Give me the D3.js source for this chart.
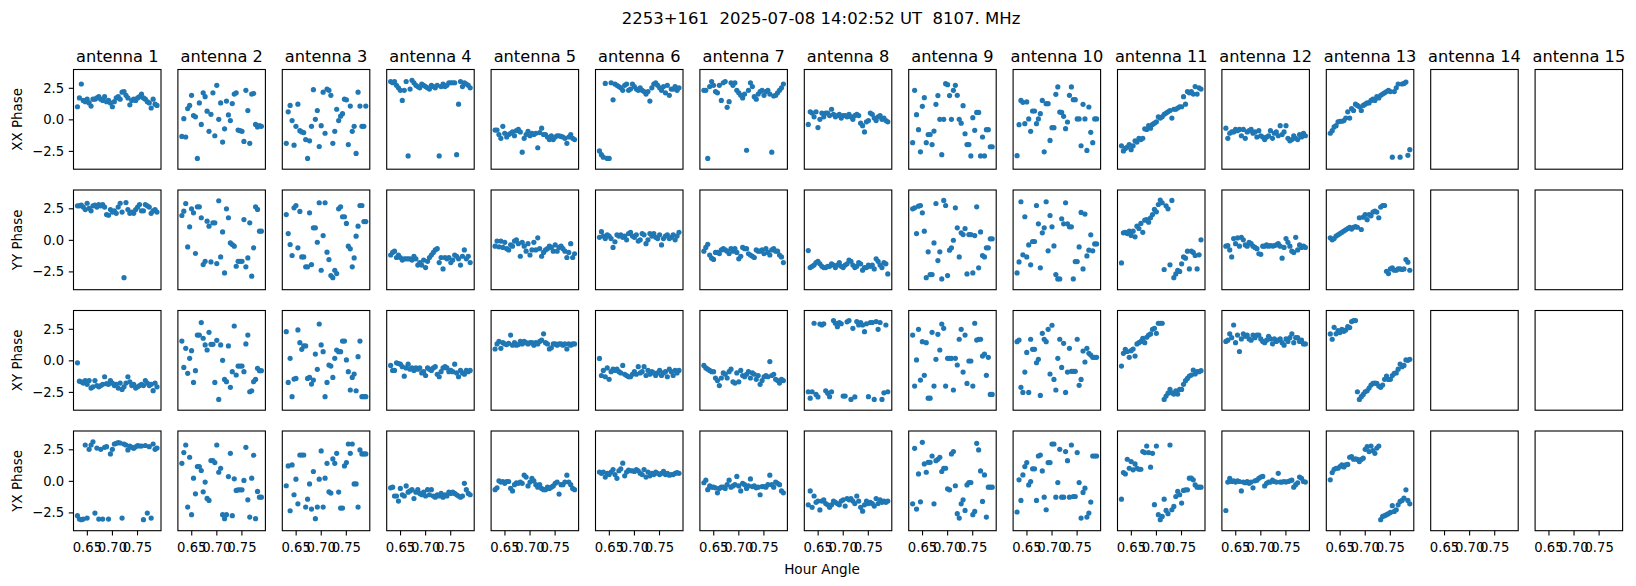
<!DOCTYPE html>
<html><head><meta charset="utf-8">
<script src="https://cdn.jsdelivr.net/npm/d3@7"></script>
<style>
body{margin:0;background:#fff}
svg{display:block}
text{font-family:"DejaVu Sans",sans-serif;fill:#000}
</style>
</head><body><div id="chart"></div>
<script>
const chartTitle = "2253+161  2025-07-08 14:02:52 UT  8107. MHz";
const antennas = ["antenna 1","antenna 2","antenna 3","antenna 4","antenna 5","antenna 6","antenna 7","antenna 8","antenna 9","antenna 10","antenna 11","antenna 12","antenna 13","antenna 14","antenna 15"];
const polarizations = ["XX Phase","YY Phase","XY Phase","YX Phase"];
const xLabel = "Hour Angle";
const xTicks = [0.65, 0.70, 0.75];
const yTicks = [-2.5, 0.0, 2.5];
const hourAngle = [0.6313,0.6352,0.6390,0.6429,0.6468,0.6506,0.6545,0.6584,0.6622,0.6661,0.6700,0.6738,0.6777,0.6816,0.6854,0.6893,0.6932,0.6970,0.7009,0.7048,0.7086,0.7125,0.7164,0.7202,0.7241,0.7280,0.7318,0.7357,0.7396,0.7434,0.7473,0.7512,0.7550,0.7589,0.7628,0.7666,0.7705,0.7744,0.7782,0.7821,0.7860,0.7898];

const phaseXX = [
[1.0,1.7,2.8,1.5,1.4,1.6,1.3,1.05,1.6,1.6,1.7,1.8,1.6,1.5,1.8,1.4,1.5,1.3,1.0,1.4,1.7,1.8,1.6,2.15,2.2,1.9,1.7,1.15,1.5,1.6,1.5,1.7,1.8,2.0,1.7,1.6,1.4,1.3,0.9,1.6,1.2,1.1],
[-1.35,0.05,-1.4,0.85,1.1,1.9,0.3,0.2,-3.1,1.3,-0.4,2.1,1.8,0.65,-0.95,0.4,2.1,-1.3,2.7,0.0,1.3,-1.8,-0.75,1.45,0.35,-0.1,1.25,2.0,2.1,-0.85,-0.9,-0.95,-1.75,2.3,0.7,-1.9,2.0,2.05,-0.4,-0.6,-0.5,-0.55],
[-1.9,0.6,1.1,-0.1,-2.05,-0.55,1.2,-0.9,-1.0,-1.05,-1.6,-3.1,-1.7,-0.55,2.35,0.0,0.7,-2.15,-0.5,2.15,-1.1,2.4,2.3,1.9,-1.9,-0.95,0.8,-0.1,0.25,0.45,1.6,1.55,-2.0,1.05,-0.95,-0.55,-2.7,2.15,1.05,-0.55,-0.55,1.05],
[3.0,2.9,3.0,2.7,2.5,2.3,1.5,2.3,3.0,-2.9,2.4,3.1,2.9,2.7,2.6,2.5,2.8,2.7,2.6,2.5,2.4,2.7,2.6,2.5,2.7,-2.9,2.6,2.8,2.6,2.7,2.9,2.9,2.9,2.9,-2.8,1.2,3.0,2.6,2.9,2.8,2.7,2.5],
[-0.85,-0.85,-1.2,-1.5,-0.55,-1.1,-1.4,-1.2,-1.1,-1.0,-1.3,-0.9,-0.8,-1.0,-2.6,-1.5,-1.2,-0.95,-1.3,-1.1,-1.2,-1.1,-2.25,-1.05,-0.7,-1.2,-1.2,-1.4,-1.6,-1.3,-1.6,-1.4,-1.3,-1.3,-1.35,-1.4,-1.5,-1.9,-1.4,-1.2,-1.5,-1.6],
[-2.5,-2.8,-3.0,2.85,-3.1,-3.1,2.9,1.55,2.8,2.7,2.6,2.5,2.3,2.7,2.8,2.3,2.4,2.8,2.6,2.4,2.3,2.5,2.3,2.2,2.0,2.2,1.45,2.5,2.8,2.9,2.7,2.5,2.3,2.6,2.1,2.7,1.9,2.4,2.4,2.6,2.3,2.5],
[2.3,2.3,-3.1,2.6,3.0,2.7,2.2,2.1,2.7,1.5,2.9,3.0,0.95,1.4,2.9,2.7,2.9,2.3,2.1,1.9,1.7,2.0,-2.45,2.3,2.9,2.6,1.8,1.6,2.0,2.2,2.3,1.9,2.2,2.3,2.0,-2.6,1.85,1.9,2.1,2.3,2.5,2.8],
[-0.4,0.6,0.5,0.2,0.6,-0.65,0.0,0.5,0.2,0.5,0.5,0.3,0.8,0.4,0.2,0.3,0.4,0.1,0.3,0.3,0.2,0.4,0.2,0.0,0.3,0.4,0.3,-0.3,-0.5,-1.0,-0.2,-0.1,0.5,0.4,0.1,-0.1,0.2,0.3,0.0,0.1,-0.1,-0.2],
[-1.85,2.3,0.37,-0.82,-2.57,1.03,1.72,-1.85,-1.2,-1.2,-2.0,-0.93,1.19,1.88,0.0,-2.8,0.0,2.83,2.75,1.88,0.0,2.3,2.7,1.9,0.0,-0.3,1.08,-1.14,-2.0,-2.0,-2.9,0.13,-0.87,0.55,0.55,-2.9,-1.4,-2.9,-0.82,-0.82,-2.17,-2.17],
[-2.88,-0.42,1.5,1.35,-0.34,1.38,0.03,-0.95,0.66,0.66,-0.34,0.03,0.45,1.5,-2.57,1.24,1.24,-1.67,-0.66,-0.66,1.98,2.57,0.58,0.55,0.24,-0.74,-0.21,1.9,2.57,1.56,1.56,0.03,0.03,-2.09,1.19,0.03,-2.46,0.98,-1.03,-1.85,0.03,0.03],
[-2.1,-2.5,-2.3,-2.2,-2.0,-2.4,-2.1,-1.7,-1.8,-1.5,-1.6,-1.5,-0.75,-0.8,-0.5,-0.7,-0.4,-0.3,-0.2,0.2,0.1,0.2,0.4,0.5,0.6,0.7,0.1,0.8,0.8,0.9,1.0,1.0,1.8,1.2,2.2,2.1,2.2,2.0,2.6,2.0,2.5,2.4],
[-0.7,-1.5,-1.1,-1.0,-1.0,-0.8,-0.9,-0.8,-1.3,-0.8,-1.5,-1.0,-0.9,-0.8,-1.1,-1.0,-1.4,-0.9,-1.3,-1.4,-1.6,-1.4,-1.3,-0.9,-1.5,-1.1,-1.0,-1.3,-0.5,-1.2,-1.0,-0.5,-1.5,-1.7,-1.6,-1.3,-1.5,-1.6,-1.2,-1.4,-1.1,-1.3],
[-1.1,-0.9,-0.6,-0.5,-0.2,-0.15,-0.15,-0.1,0.1,0.6,0.1,0.85,0.7,1.2,1.1,1.0,0.7,1.1,1.2,1.3,1.3,1.5,1.6,1.5,1.8,1.7,1.9,2.0,2.1,2.2,2.3,2.2,-3.0,2.2,2.5,2.8,-3.0,2.8,2.85,2.95,-2.85,-2.4],
[],
[]
];

const phaseYY = [
[2.7,2.7,2.75,2.6,2.4,2.9,2.5,2.3,2.7,2.75,2.6,2.8,2.7,2.8,2.6,2.0,1.95,2.4,2.2,2.3,2.1,2.6,2.9,2.2,-3.0,2.95,2.4,2.1,2.2,2.1,2.4,2.6,2.8,2.3,2.3,2.8,2.7,2.6,2.1,2.3,2.4,2.2],
[1.93,2.27,2.88,-0.56,1.03,2.46,2.14,-1.08,2.62,2.62,1.75,-1.96,-1.7,1.48,1.08,-1.75,1.35,1.35,-1.88,3.1,-1.35,0.63,-2.62,2.46,1.75,-0.24,-0.37,-0.5,-2.09,-1.7,-1.7,-1.7,1.61,-2.14,-1.43,1.35,-2.88,-0.63,2.62,2.41,0.69,0.69],
[2.0,0.5,-0.37,-1.24,2.54,2.72,-0.63,2.25,-1.35,-1.35,-2.14,-2.14,2.14,-1.96,0.95,0.95,-0.19,2.94,-2.41,0.34,2.94,-0.98,-1.56,-2.83,-3.0,-2.41,-2.67,2.46,2.62,1.83,1.83,1.3,-0.5,-0.71,-2.14,-1.43,0.29,1.08,2.72,2.72,1.45,1.45],
[-1.2,-1.0,-0.9,-1.4,-1.2,-1.4,-1.6,-1.5,-1.5,-1.5,-1.5,-1.6,-1.3,-1.5,-2.0,-1.8,-2.0,-1.6,-2.2,-1.7,-1.4,-1.2,-1.0,-0.8,-0.7,-1.8,-1.4,-2.3,-1.4,-1.5,-1.4,-1.8,-1.6,-1.2,-1.3,-1.5,-2.0,-1.3,-0.8,-1.5,-1.3,-1.8],
[-0.5,-0.1,-0.55,-0.1,-0.6,-0.2,-0.7,-0.8,-0.4,-0.5,-0.1,0.0,-0.3,-1.3,-0.2,-0.5,-0.9,-0.3,-1.2,-0.8,-0.2,-0.8,0.16,-0.7,-1.3,-1.0,-0.8,-0.7,-0.5,-0.6,-0.9,-0.4,-0.9,-0.6,-0.5,-0.7,-0.9,-1.4,-1.0,-0.3,-1.4,-1.1],
[0.2,0.65,0.3,0.1,0.4,0.3,0.1,-0.6,-0.15,0.4,0.3,0.4,0.2,0.3,0.0,0.5,0.6,0.3,0.2,0.4,-0.1,0.0,0.5,0.4,-0.3,0.0,0.5,0.3,0.5,0.2,0.1,0.4,-0.4,0.1,0.3,0.4,0.1,0.2,0.4,0.0,0.3,0.6],
[-0.9,-0.6,-0.35,-1.2,-1.45,-1.55,-1.0,-1.0,-1.1,-0.8,-0.7,-0.8,-0.9,-1.1,-0.7,-0.9,-0.7,-1.0,-1.5,-1.3,-0.6,-0.7,-0.7,-1.1,-1.2,-1.3,-1.4,-0.8,-0.9,-0.9,-0.8,-1.1,-0.7,-1.0,-1.2,-0.8,-0.7,-0.9,-0.9,-1.2,-1.35,-1.8],
[-0.85,-2.2,-2.1,-2.0,-1.8,-1.7,-1.9,-2.1,-2.2,-2.2,-2.1,-2.1,-1.9,-2.0,-2.2,-2.0,-1.8,-2.1,-2.2,-2.0,-1.9,-1.6,-1.7,-2.0,-2.2,-2.1,-1.8,-1.9,-2.4,-2.2,-2.2,-2.0,-2.1,-2.0,-2.3,-1.5,-1.7,-2.0,-2.2,-1.8,-1.9,-2.7],
[2.46,2.54,0.5,2.67,2.72,2.14,0.69,-3.0,-0.95,-2.75,-2.75,-0.24,2.88,-1.64,-0.95,-3.1,3.12,2.72,-2.83,-0.82,-0.63,-0.03,2.54,0.95,-1.35,0.56,0.42,0.9,-2.7,0.42,0.42,-2.62,0.34,2.62,-2.22,0.63,-1.24,-1.35,-0.63,-0.63,0.08,0.08],
[-2.62,-1.75,3.02,-1.19,1.83,-1.35,-0.4,-1.98,-0.13,-0.13,2.72,1.27,-2.22,0.56,0.95,3.02,-0.87,1.93,1.03,-0.48,-2.75,-3.1,-3.1,1.67,1.27,2.94,1.27,1.03,1.03,-3.1,-1.72,-1.72,-0.56,2.17,-2.3,2.04,-1.27,-0.82,0.4,-0.87,-0.32,-0.32],
[-1.83,0.56,0.6,0.5,0.69,0.35,0.69,0.24,1.08,0.9,1.3,0.6,1.56,1.6,1.4,1.75,2.0,2.41,2.22,2.8,3.15,2.94,-2.35,2.7,2.46,-1.98,3.12,-3.0,-2.7,-2.41,-2.5,-1.9,-1.35,-1.45,-0.9,-2.3,-0.9,-1.0,-1.24,-2.3,-1.19,0.0],
[-0.5,-0.45,-0.8,-1.35,0.1,-0.3,0.15,-0.5,0.2,0.0,-0.4,-0.5,-0.2,-0.3,-0.5,-0.6,-0.7,-1.1,-1.15,-0.5,-0.5,-0.4,-0.5,-0.45,-0.5,-0.45,-0.4,-0.3,-0.5,-1.45,-0.6,0.1,-0.2,-0.5,-0.9,-1.0,0.2,-0.8,-0.4,-0.6,-0.5,-0.6],
[0.16,0.0,0.1,0.3,0.4,0.5,0.6,0.7,0.8,0.9,1.0,0.85,1.0,1.05,1.0,1.75,0.82,1.8,2.0,1.6,2.0,1.9,2.2,2.27,2.2,1.75,2.6,2.72,2.72,-2.49,-2.67,-2.3,-2.22,-2.4,-2.41,-2.3,-2.3,-2.35,-2.3,-1.56,-1.77,-2.41],
[],
[]
];

const phaseXY = [
[-0.2,-1.65,-1.7,-1.8,-1.6,-1.9,-1.6,-2.2,-2.1,-1.6,-2.0,-2.1,-2.0,-1.9,-1.3,-1.85,-1.9,-1.6,-1.8,-2.0,-1.9,-2.2,-1.8,-2.3,-2.1,-1.8,-1.3,-1.7,-2.0,-1.9,-2.2,-2.1,-2.0,-1.9,-2.0,-1.6,-1.8,-2.0,-1.9,-2.4,-1.8,-2.1],
[1.53,-0.56,0.95,-1.03,0.16,0.77,-1.75,-0.82,2.0,2.0,2.99,1.75,1.22,0.82,2.22,1.27,1.27,-1.75,1.59,-3.1,1.22,0.0,-1.51,-1.69,1.14,-2.14,-0.9,2.72,-1.16,-0.45,-0.45,-0.45,-0.9,1.3,2.0,-2.49,-2.41,-1.69,-1.51,-0.63,-0.82,-0.82],
[2.27,-1.75,0.16,-2.88,-1.48,-1.43,2.41,1.4,0.87,1.14,1.14,-1.43,-1.35,-1.88,-1.56,0.5,-0.71,2.88,1.22,0.69,-2.88,-1.75,-0.37,-0.45,-1.35,0.16,0.82,0.69,0.69,1.53,1.53,0.03,-0.9,-2.35,-1.35,-1.08,-2.41,0.29,1.53,-2.88,-2.88,-2.88],
[-0.4,-0.8,-0.8,-0.2,-0.25,-0.3,-0.5,-1.25,-0.6,-0.3,-0.7,-0.6,-0.8,-0.6,-0.7,-0.6,-1.0,-0.9,-1.2,-0.6,-0.7,-0.8,-0.6,-0.5,-1.1,-1.3,-0.9,-0.6,-0.5,-0.6,-0.9,-0.8,-0.9,-0.3,-1.0,-1.3,-0.8,-1.0,-1.1,-0.8,-0.9,-0.8],
[0.9,1.3,1.5,0.95,1.4,1.3,1.25,1.35,2.0,1.2,1.4,1.2,1.25,1.5,1.3,1.5,1.4,1.3,1.4,1.4,1.2,1.4,1.3,1.5,1.6,2.1,1.4,1.3,0.9,1.0,1.3,1.3,1.2,1.3,1.3,1.2,1.3,0.9,1.3,1.2,1.3,1.3],
[0.15,-1.2,-0.8,-1.3,-0.6,-1.5,-0.9,-0.7,-0.8,-0.7,-0.9,-1.0,-0.4,-1.1,-1.2,-1.3,-1.3,-1.1,-0.9,-1.1,-0.5,-1.0,-0.9,-0.5,-1.2,-0.8,-1.1,-0.9,-1.0,-1.2,-1.0,-0.8,-1.2,-1.0,-0.9,-1.3,-0.7,-0.9,-1.2,-0.8,-1.0,-0.8],
[-0.4,-0.6,-0.7,-0.8,-0.9,-0.9,-1.4,-1.6,-2.0,-1.4,-1.0,-1.1,-1.4,-0.9,-0.7,-1.7,-1.8,-1.0,-1.7,-0.8,-1.2,-1.3,-1.1,-0.9,-1.4,-1.0,-1.1,-1.5,-1.2,-1.9,-1.6,-1.3,-1.2,-1.3,-0.1,-1.2,-1.1,-1.5,-1.6,-1.8,-1.5,-1.6],
[-2.49,-3.0,-2.49,2.94,-2.7,-2.9,2.88,2.8,2.9,-2.41,-2.6,-2.88,-2.49,3.15,2.94,2.67,3.0,2.9,-2.83,-2.83,3.05,3.15,-3.1,2.54,-2.9,3.07,2.8,3.0,2.8,2.27,2.9,-2.88,3.0,3.0,-3.1,3.07,2.46,3.0,-3.1,-2.57,2.8,-2.49],
[2.0,-2.04,0.03,2.46,-1.56,1.48,-1.19,1.4,-3.0,-3.0,2.22,-2.04,0.08,2.06,0.82,2.88,2.54,-2.04,0.16,0.16,0.16,-2.35,0.16,-0.37,1.67,2.46,-0.93,2.0,-1.83,-0.05,-0.05,-2.04,2.94,1.61,1.67,1.67,0.34,0.5,-1.19,0.24,-2.7,-2.7],
[1.48,1.61,-2.14,-2.54,-0.93,0.63,-2.54,1.67,0.87,0.87,-0.19,0.08,-2.78,2.14,1.67,1.48,2.46,-1.08,2.78,-1.51,-2.35,0.16,1.67,-0.56,1.35,-2.54,-0.93,0.95,-0.87,-0.87,-0.87,1.67,-1.98,-1.51,0.74,-0.13,0.95,0.56,0.42,0.24,0.24,0.24],
[-0.45,0.56,0.87,0.7,0.24,0.77,0.9,0.34,1.3,1.4,1.5,1.75,1.4,1.83,2.0,2.09,2.46,2.54,2.14,2.94,2.94,2.94,-3.1,-2.83,-2.6,-2.3,-2.57,-2.67,-2.41,-2.67,-2.3,-2.3,-1.9,-1.61,-1.43,-1.24,-1.16,-0.77,-1.08,-0.9,-0.9,-0.82],
[1.5,1.6,2.1,1.8,2.8,1.4,2.0,0.7,1.7,2.1,1.9,2.0,1.7,1.6,2.0,1.8,2.0,2.0,1.7,1.5,1.4,1.6,1.9,1.7,1.3,1.7,1.5,1.6,1.7,1.4,1.2,1.7,1.5,1.8,2.1,1.4,1.8,1.8,1.5,1.6,1.3,1.3],
[2.09,1.67,2.62,2.1,2.35,2.2,2.46,2.3,2.4,2.67,2.6,3.07,3.15,3.15,-2.49,-3.1,-2.88,-2.7,-2.49,-2.41,-2.2,-1.96,-1.83,-1.8,-1.83,-2.04,-2.14,-1.96,-1.5,-1.24,-1.51,-1.5,-1.2,-1.03,-1.0,-0.7,-0.29,-0.5,-0.4,0.03,0.0,0.08],
[],
[]
];

const phaseYX = [
[-2.76,-3.03,-3.08,-3.03,2.84,-2.95,2.5,2.84,3.1,-2.55,2.6,-3.03,2.5,-3.03,2.66,2.71,-3.03,2.13,2.5,2.92,2.97,3.03,3.0,-2.95,2.92,2.84,2.45,2.76,2.66,2.58,2.7,2.8,2.76,2.76,-3.08,2.8,-2.55,2.71,-2.95,2.92,2.5,2.6],
[1.39,2.24,2.84,-2.08,1.87,-2.68,0.21,-1.03,1.13,1.13,0.82,-0.87,-0.1,-1.39,-1.55,1.61,1.61,1.45,2.84,0.68,1.0,-2.68,-3.0,-2.68,0.34,2.18,-2.76,0.16,-0.76,-0.71,-0.71,-0.71,0.03,2.66,-1.5,-2.87,0.21,2.03,-3.0,-0.84,-1.29,-1.29],
[-0.39,1.18,-2.37,1.26,-1.1,0.13,-1.82,2.05,2.05,2.05,-2.08,-1.45,-0.24,-2.24,0.74,-3.0,-2.08,0.13,2.37,-2.08,0.21,1.39,-0.87,-0.97,1.74,1.39,2.18,-0.89,-2.16,-2.16,1.18,1.45,2.92,2.18,2.92,-0.24,-0.24,-2.08,2.45,2.13,2.13,2.13],
[-0.55,-0.5,-1.2,-1.2,-1.6,-0.6,-1.1,-1.2,-0.4,-0.9,-0.8,-0.7,-1.4,-0.9,-0.7,-1.0,-1.1,-0.9,-1.2,-0.7,-1.1,-0.7,-1.2,-1.3,-1.1,-1.2,-1.0,-1.3,-1.1,-1.2,-0.9,-1.0,-0.9,-1.0,-1.1,-1.2,-1.3,-1.2,-0.2,-0.7,-1.0,-1.1],
[-0.7,-0.55,0.0,-0.1,-0.05,-0.2,-0.05,-0.05,-0.6,-0.8,-0.3,-0.15,-0.2,-0.1,-0.2,0.45,0.3,-0.4,-0.1,0.2,0.0,-0.3,-0.5,-0.3,-0.6,-0.7,-0.7,-0.5,-0.6,-0.5,-0.4,-0.2,-0.1,-1.05,-0.3,-0.3,-0.1,0.45,-0.1,-0.3,-0.6,-0.7],
[0.7,0.6,0.7,0.3,0.6,0.5,0.7,0.9,0.5,0.2,0.8,0.95,1.4,0.4,0.7,0.85,0.8,0.8,0.75,0.9,0.8,0.6,0.5,0.9,0.3,0.7,0.4,0.6,0.5,0.7,0.6,0.5,0.6,0.75,0.5,0.6,0.45,0.5,0.5,0.6,0.65,0.6],
[-0.15,0.05,-0.7,-0.4,-0.5,-0.5,-0.55,-0.95,-0.6,-0.5,-0.5,-0.6,-0.3,0.05,-0.5,-0.4,-0.3,0.35,-0.4,-0.8,-0.2,-0.3,-0.6,-0.4,0.15,-0.45,-0.4,-0.55,-0.5,-1.1,-0.45,-0.45,-0.5,-0.3,0.45,-0.3,-0.5,-0.1,-0.2,-0.3,-0.8,-0.95],
[-1.9,-0.8,-2.1,-1.2,-1.7,-1.6,-2.3,-1.6,-1.5,-1.8,-1.9,-2.1,-1.9,-1.6,-1.7,-1.8,-1.9,-1.6,-1.5,-2.0,-1.4,-1.5,-1.4,-1.6,-1.8,-1.2,-1.6,-2.1,-2.4,-1.9,-1.6,-1.8,-1.7,-1.8,-2.0,-1.4,-1.8,-1.5,-1.7,-1.6,-1.7,-1.6],
[-1.82,2.58,-2.24,0.55,-1.66,3.05,1.34,0.68,1.47,1.47,1.97,-1.82,1.6,1.71,1.87,0.74,1.0,1.0,-0.63,-0.71,2.13,2.32,-0.39,-2.6,-2.95,-1.82,-1.5,-2.34,-0.32,-0.13,-0.13,-2.68,-2.42,2.97,2.45,0.79,-1.63,0.47,-2.87,-0.5,-0.5,-0.5],
[-2.47,0.08,-1.55,0.47,1.13,1.45,-0.32,-0.05,0.95,0.95,-1.55,1.97,2.05,0.79,-1.29,-2.29,1.45,1.45,2.92,2.92,-1.29,-0.13,2.5,-1.29,-1.29,2.32,1.6,-1.29,2.84,-1.24,-1.24,2.24,-0.13,-2.95,-0.92,-0.58,-2.87,-2.55,-1.68,1.97,1.97,1.97],
[-1.45,0.66,0.55,1.71,1.0,1.53,0.87,1.34,1.0,0.92,0.92,2.32,2.24,2.76,2.24,1.08,2.18,-1.89,2.76,-2.68,-3.08,-2.82,-1.45,-2.34,-2.6,2.84,-2.29,-2.03,-1.24,-0.84,-1.1,-1.76,-0.76,-0.71,-0.71,0.21,0.21,0.08,-0.32,-0.5,-0.5,-0.5],
[-2.35,-0.1,0.2,-0.05,0.0,-0.1,0.0,-0.05,-0.8,-0.1,-0.15,-0.05,-0.2,-0.1,-0.55,0.0,0.05,0.2,0.3,0.35,-0.4,-0.2,-0.1,-0.1,0.05,-0.05,-0.1,0.6,-0.1,-0.1,-0.05,-0.1,-0.05,0.0,0.05,-0.5,-0.3,-0.15,0.3,0.2,-0.05,-0.1],
[0.08,0.66,0.92,1.0,1.0,1.13,1.26,1.1,1.26,1.3,1.87,1.92,1.71,1.75,1.7,1.53,1.7,1.8,2.5,2.71,2.32,2.76,2.39,2.18,2.6,2.76,-3.08,-2.82,-2.76,-2.68,-2.6,-2.5,-1.97,-2.42,-2.29,-1.9,-1.63,-1.55,-1.37,-0.71,-1.55,-1.82],
[],
[]
];

const rowsData = [phaseXX, phaseYY, phaseXY, phaseYX];

// ---- layout ----
const W = 1636, H = 586;
const left0 = 73.5, colStep = 104.4, pw = 87.5;
const top0 = 69.5, rowStep = 120.5, ph = 99.7;
const tickLen = 4.7;
const tickFont = "13.2px";

const svg = d3.select("#chart").append("svg").attr("width", W).attr("height", H);

svg.append("text").attr("x", 821).attr("y", 23.5).attr("text-anchor","middle")
  .style("font-size","16.5px").style("white-space","pre").text(chartTitle);

const x = d3.scaleLinear().domain([0.6234, 0.7978]).range([0, pw]);
const y = d3.scaleLinear().domain([-3.95, 3.95]).range([ph, 0]);

polarizations.forEach((pol, r) => {
  antennas.forEach((ant, c) => {
    const g = svg.append("g").attr("transform", `translate(${left0 + c*colStep},${top0 + r*rowStep})`);
    const pts = rowsData[r][c].map((v, i) => ({t: hourAngle[i], v}));
    g.append("g").selectAll("circle").data(pts).join("circle")
      .attr("cx", d => x(d.t)).attr("cy", d => y(d.v)).attr("r", 2.6).attr("fill", "#1f77b4");
    g.append("rect").attr("x",0).attr("y",0).attr("width",pw).attr("height",ph)
      .attr("fill","none").attr("stroke","#000").attr("stroke-width",1.1);
    if (r === 0) {
      g.append("text").attr("x", pw/2).attr("y", -8).attr("text-anchor","middle")
        .style("font-size","16.2px").text(ant);
    }
    if (c === 0) {
      const ax = g.append("g").call(d3.axisLeft(y).tickValues(yTicks).tickSize(tickLen).tickPadding(4.7).tickFormat(d3.format(".1f")));
      ax.select(".domain").remove();
      ax.selectAll("line").attr("stroke","#000").attr("stroke-width",1.1);
      ax.selectAll("text").style("font-size",tickFont).style("font-family","DejaVu Sans");
      svg.append("text").attr("transform", `translate(21.7,${top0 + r*rowStep + ph/2}) rotate(-90)`)
        .attr("text-anchor","middle").style("font-size","13.4px").text(pol);
    }
    if (r === 3) {
      const ax = g.append("g").attr("transform",`translate(0,${ph})`)
        .call(d3.axisBottom(x).tickValues(xTicks).tickSize(tickLen).tickPadding(7).tickFormat(d3.format(".2f")));
      ax.select(".domain").remove();
      ax.selectAll("line").attr("stroke","#000").attr("stroke-width",1.1);
      ax.selectAll("text").style("font-size",tickFont).style("font-family","DejaVu Sans");
    }
  });
});

svg.append("text").attr("x", 822).attr("y", 574).attr("text-anchor","middle")
  .style("font-size","13.6px").text(xLabel);
</script>
</body></html>
